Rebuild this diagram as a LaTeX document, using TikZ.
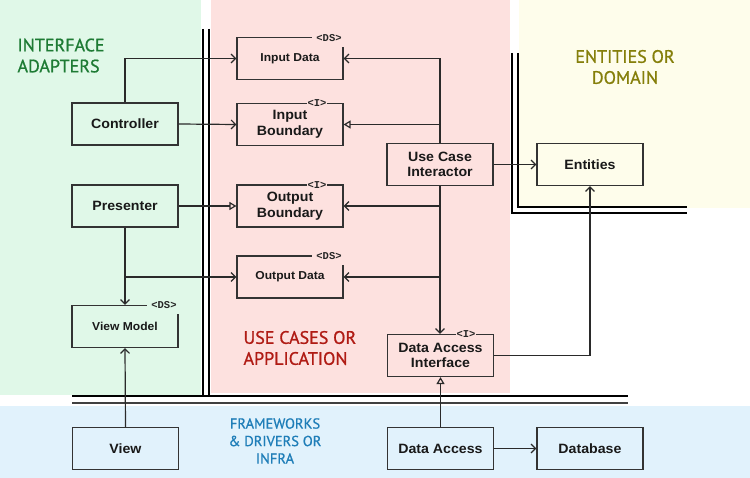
\documentclass[tikz,border=0pt]{standalone}
\usepackage{fontspec}
\setmainfont[FakeStretch=1.05]{Liberation Sans}
\newfontfamily\regfont[FakeBold=0.9]{PT Sans}
\newfontfamily\stereofont{Liberation Mono}
\usetikzlibrary{arrows.meta}
\definecolor{bggreen}{HTML}{E0F8E8}
\definecolor{bgpink}{HTML}{FDE1DF}
\definecolor{bgyellow}{HTML}{FEFDEB}
\definecolor{bgblue}{HTML}{E1F2FC}
\definecolor{txgreen}{HTML}{1E7B34}
\definecolor{txolive}{HTML}{857F0A}
\definecolor{txred}{HTML}{B01B14}
\definecolor{txblue}{HTML}{1F7EB8}
\definecolor{boxc}{HTML}{333333}
\definecolor{linec}{HTML}{2A2A2A}
\tikzset{
  box/.style={draw=boxc, line width=1.2pt, minimum width=106pt, minimum height=42pt,
    inner sep=0pt, align=center, text=black!90, font=\fontsize{13.5}{15.5}\selectfont\bfseries},
  smallbox/.style={box, font=\fontsize{11.5}{13}\selectfont\bfseries},
  stereo/.style={inner sep=1pt, font=\stereofont\bfseries\fontsize{10.5}{10.5}\selectfont, text=black!85},
  conn/.style={draw=linec, line width=1.2pt},
  arr/.style={conn, -{Straight Barb[length=4.5pt,width=9pt]}},
  real/.style={conn, -{Triangle[open,length=7pt,width=8pt]}},
  region/.style={font=\regfont\fontsize{18}{21}\selectfont, align=left},
  wall/.style={draw=black, line width=1.8pt}
}
\begin{document}
\begin{tikzpicture}[x=1pt,y=-1pt]
% backgrounds
\fill[white] (0,0) rectangle (750,478);
\fill[bggreen] (0,0) rectangle (201,395);
\fill[bgpink] (211,0) rectangle (510,393);
\fill[bgyellow] (519,0) rectangle (750,208);
\fill[bgblue] (0,406) rectangle (750,478);

% walls
\draw[wall] (203,29) -- (203,397);
\draw[wall] (209,29) -- (209,397);
\draw[wall] (72,396) -- (628,396);
\draw[wall, draw=black!75] (72,403) -- (628,403);
\draw[wall] (512,53) -- (512,213) -- (687,213);
\draw[wall] (518,53) -- (518,207) -- (687,207);

% region labels
\node[region, text=txgreen, anchor=north west] (lia) at (14,35) {INTERFACE\\ADAPTERS};
\node[region, text=txolive, align=center] (led) at (625,67) {ENTITIES OR\\DOMAIN};
\node[region, text=txred, anchor=west] (luc) at (240,348) {USE CASES OR\\APPLICATION};
\node[region, text=txblue, align=center, font=\regfont\fontsize{14.5}{17.5}\selectfont] (lfw) at (275,441) {FRAMEWORKS\\\& DRIVERS OR\\INFRA};

% boxes
\node[smallbox] (indata) at (290,58.5) {Input Data};
\node[box] (inbound) at (290,124.5) {Input\\Boundary};
\node[box] (outbound) at (290,206) {Output\\Boundary};
\node[smallbox] (outdata) at (290,277) {Output Data};
\node[box] (uci) at (440,164.5) {Use Case\\Interactor};
\node[box] (dai) at (440.5,355.5) {Data Access\\Interface};
\node[box] (controller) at (125,124) {Controller};
\node[box] (presenter) at (125,206) {Presenter};
\node[smallbox] (viewmodel) at (125,326.5) {View Model};
\node[box] (entities) at (590,164.5) {Entities};
\node[box] (view) at (125.5,448.5) {View};
\node[box] (dataaccess) at (440.5,448.5) {Data Access};
\node[box] (database) at (590,448.5) {Database};

% stereotypes
\node[stereo, fill=bgpink, minimum width=34pt, minimum height=18pt] (s1) at (329,38) {<DS>};
\node[stereo, fill=bgpink] (s2) at (317,103) {<I>};
\node[stereo, fill=bgpink] (s3) at (317,185) {<I>};
\node[stereo, fill=bgpink, minimum width=34pt, minimum height=18pt] (s4) at (329,256) {<DS>};
\node[stereo, fill=bggreen, minimum width=34pt, minimum height=18pt] (s5) at (164,305) {<DS>};
\node[stereo, fill=bgpink] (s6) at (466,334) {<I>};

% connectors
\draw[arr] (controller.north) |- (indata.west);
\draw[arr] (controller.east) -- (inbound.west);
\coordinate (t1) at (uci.north |- indata.east);
\draw[conn] (uci.north) -- (t1);
\draw[arr] (t1) -- (indata.east);
\draw[real] (uci.north |- inbound.east) -- (inbound.east);
\draw[arr] (uci.south) -- (uci.south |- dai.north);
\draw[arr] (uci.south |- outbound.east) -- (outbound.east);
\draw[arr] (uci.south |- outdata.east) -- (outdata.east);
\draw[arr] (uci.east) -- (entities.west);
\draw[real] (presenter.east) -- (outbound.west);
\draw[arr] (presenter.south) -- (viewmodel.north);
\draw[arr] (presenter.south |- outdata.west) -- (outdata.west);
\draw[arr] (view.north) -- (viewmodel.south);
\draw[real] (dataaccess.north) -- (dai.south);
\draw[arr] (dai.east) -| (entities.south);
\draw[arr] (dataaccess.east) -- (database.west);
\end{tikzpicture}
\end{document}
